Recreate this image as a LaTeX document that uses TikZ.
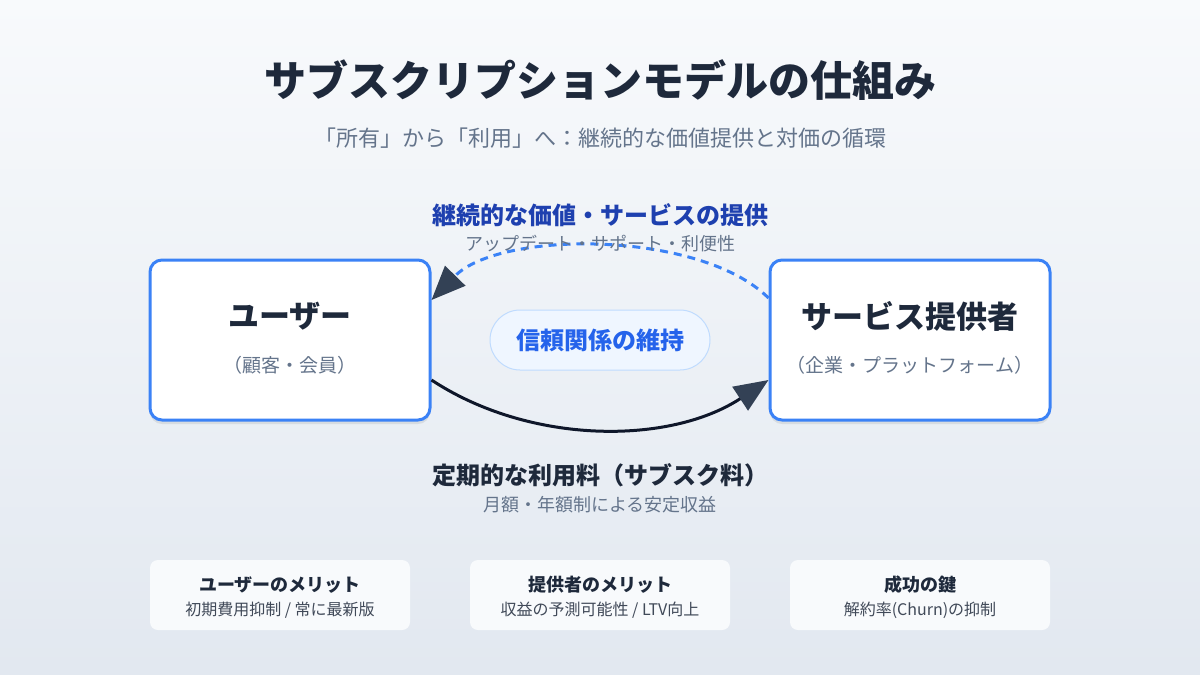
\documentclass[tikz,border=0pt]{standalone}
\usepackage{fontspec}
\setmainfont{Noto Sans CJK JP}
\usetikzlibrary{arrows.meta,shadows}
\definecolor{ink}{HTML}{1E293B}
\definecolor{mute}{HTML}{64748B}
\definecolor{boxblue}{HTML}{3B82F6}
\definecolor{deepblue}{HTML}{1E40AF}
\definecolor{pillfill}{HTML}{EFF6FF}
\definecolor{pillline}{HTML}{BFDBFE}
\definecolor{pilltext}{HTML}{2563EB}
\definecolor{tipdark}{HTML}{334155}
\definecolor{paydark}{HTML}{0F172A}
\definecolor{bgtop}{HTML}{F8FAFC}
\definecolor{bgbottom}{HTML}{E2E8F0}
\newcommand{\fs}[1]{\fontsize{#1pt}{#1pt}\selectfont}

\begin{document}
\begin{tikzpicture}[x=1pt,y=-1pt,
    party/.style={draw=boxblue, line width=3pt, fill=white, rounded corners=12pt,
      minimum width=280pt, minimum height=160pt,
      drop shadow={shadow xshift=0pt, shadow yshift=-4pt, opacity=0.08, fill=black}},
    partyname/.style={font=\bfseries\fs{31}, text=ink},
    partysub/.style={font=\fs{19}, text=mute},
    flowhead/.style={font=\bfseries\fs{24}},
    flowsub/.style={font=\fs{18}, text=mute},
    card/.style={fill=bgtop, rounded corners=8pt, minimum width=260pt, minimum height=70pt},
    cardhead/.style={font=\bfseries\fs{18}, text=ink},
    cardsub/.style={font=\fs{16}, text=ink!85},
  ]
  % background
  \shade[top color=bgtop, bottom color=bgbottom] (0,0) rectangle (1200,675);
  \useasboundingbox (0,0) rectangle (1200,675);

  % title
  \node[font=\bfseries\fs{42}, text=ink] (title) at (600,80) {サブスクリプションモデルの仕組み};
  \node[font=\fs{22}, text=mute] (subtitle) at (600,138) {「所有」から「利用」へ：継続的な価値提供と対価の循環};

  % the two parties
  \node[party] (user) at (290,340) {};
  \node[partyname] (userName) at (290,316) {ユーザー};
  \node[partysub] (userSub) at (290,365) {（顧客・会員）};
  \node[party] (prov) at (910,340) {};
  \node[partyname] (provName) at (910,316) {サービス提供者};
  \node[partysub] (provSub) at (910,365) {（企業・プラットフォーム）};

  % trust in the middle
  \node[draw=pillline, line width=1pt, fill=pillfill, rounded corners=30pt,
    minimum width=220pt, minimum height=60pt, font=\bfseries\fs{24}, text=pilltext] (trust) at (600,340) {信頼関係の維持};

  % value flow (provider -> user)
  \draw[boxblue, line width=3pt, dash pattern=on 8pt off 6pt,
    -{Triangle[length=34pt,width=28pt,color=tipdark]}]
    ([yshift=42pt]prov.west) .. controls (700,230) and (500,230) .. ([yshift=40pt]user.east);
  \node[flowhead, text=deepblue] (valueHead) at (600,215) {継続的な価値・サービスの提供};
  \node[flowsub] (valueSub) at (600,244) {アップデート・サポート・利便性};

  % payment flow (user -> provider)
  \draw[paydark, line width=3pt, -{Triangle[length=34pt,width=28pt,color=tipdark]}]
    ([yshift=-40pt]user.east) .. controls (530,445) and (670,445) .. ([yshift=-40pt]prov.west);
  \node[flowhead, text=ink] (payHead) at (600,475) {定期的な利用料（サブスク料）};
  \node[flowsub] (paySub) at (600,505) {月額・年額制による安定収益};

  % merit cards
  \node[card] (cardUser) at (280,595) {};
  \node[cardhead] (cardUserHead) at (280,585) {ユーザーのメリット};
  \node[cardsub] (cardUserSub) at (280,610) {初期費用抑制 / 常に最新版};
  \node[card] (cardProv) at (600,595) {};
  \node[cardhead] (cardProvHead) at (600,585) {提供者のメリット};
  \node[cardsub] (cardProvSub) at (600,610) {収益の予測可能性 / LTV向上};
  \node[card] (cardKey) at (920,595) {};
  \node[cardhead] (cardKeyHead) at (920,585) {成功の鍵};
  \node[cardsub] (cardKeySub) at (920,610) {解約率(Churn)の抑制};
\end{tikzpicture}
\end{document}
